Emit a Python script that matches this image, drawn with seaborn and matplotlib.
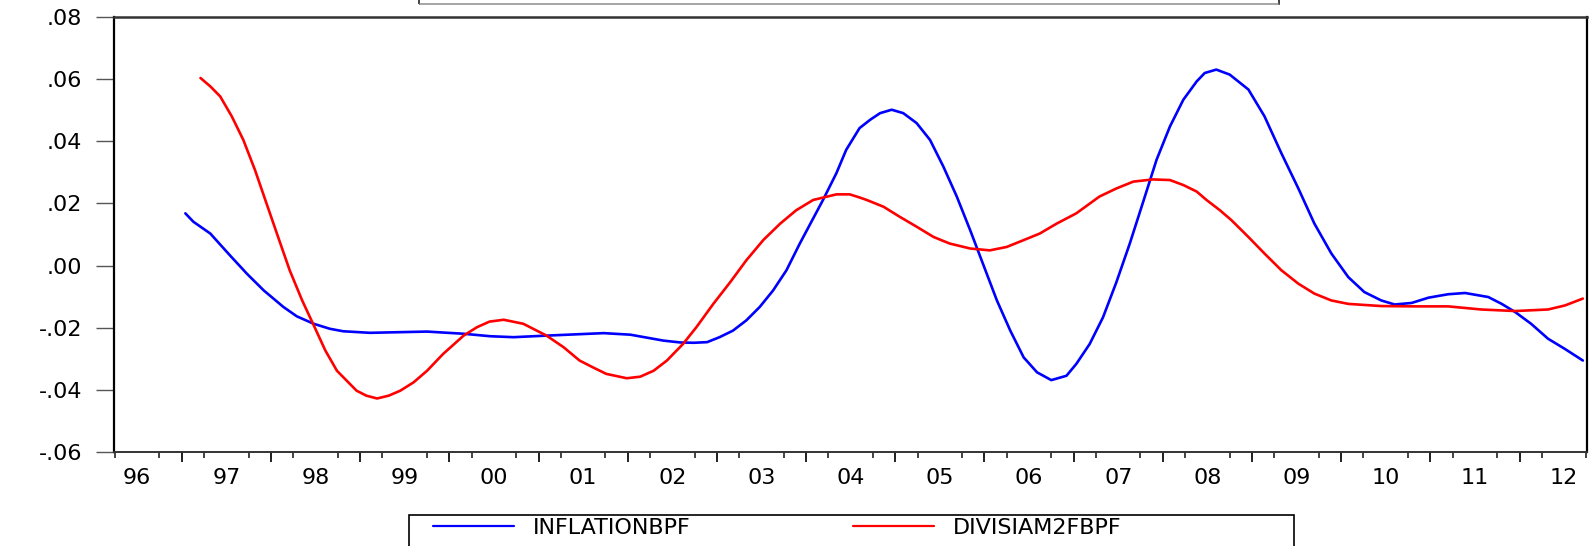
import numpy as np
import pandas as pd
import matplotlib
matplotlib.use("Agg")
import matplotlib.pyplot as plt
import seaborn as sns
from matplotlib.patches import Rectangle

# series (time in fractional years)
t_infl = [1997.04, 1997.13, 1997.32, 1997.54, 1997.73, 1997.92, 1998.14, 1998.29,
          1998.48, 1998.66, 1998.81, 1999.11, 1999.75, 2000.16, 2000.46, 2000.72,
          2001.09, 2001.73, 2002.03, 2002.40, 2002.59, 2002.74, 2002.89, 2003.03,
          2003.18, 2003.33, 2003.48, 2003.63, 2003.78, 2003.93, 2004.19, 2004.34,
          2004.45, 2004.60, 2004.72, 2004.83, 2004.96, 2005.09, 2005.24, 2005.39,
          2005.54, 2005.69, 2005.84, 2005.99, 2006.14, 2006.29, 2006.44, 2006.59,
          2006.75, 2006.92, 2007.03, 2007.18, 2007.33, 2007.48, 2007.63, 2007.78,
          2007.93, 2008.08, 2008.23, 2008.38, 2008.47, 2008.60, 2008.75, 2008.96,
          2009.14, 2009.33, 2009.52, 2009.70, 2009.89, 2010.08, 2010.26, 2010.45,
          2010.60, 2010.79, 2010.98, 2011.20, 2011.39, 2011.65, 2011.80, 2011.95,
          2012.13, 2012.32, 2012.51, 2012.71]
v_infl = [0.0168, 0.0141, 0.0103, 0.0033, -0.0026, -0.0080, -0.0133, -0.0163,
          -0.0187, -0.0203, -0.0211, -0.0216, -0.0212, -0.0219, -0.0227, -0.0230,
          -0.0225, -0.0217, -0.0222, -0.0241, -0.0247, -0.0248, -0.0246, -0.0230,
          -0.0209, -0.0176, -0.0133, -0.0080, -0.0015, 0.0071, 0.0211, 0.0297,
          0.0372, 0.0442, 0.0469, 0.0490, 0.0501, 0.0490, 0.0458, 0.0404,
          0.0318, 0.0222, 0.0114, 0.0001, -0.0112, -0.0209, -0.0295, -0.0343,
          -0.0368, -0.0354, -0.0316, -0.0252, -0.0166, -0.0053, 0.0071, 0.0205,
          0.0340, 0.0447, 0.0533, 0.0592, 0.0619, 0.0630, 0.0614, 0.0566,
          0.0480, 0.0361, 0.0248, 0.0135, 0.0039, -0.0037, -0.0085, -0.0112,
          -0.0125, -0.0120, -0.0103, -0.0092, -0.0088, -0.0101, -0.0123, -0.0149,
          -0.0187, -0.0235, -0.0268, -0.0305]

t_div = [1997.21, 1997.32, 1997.43, 1997.56, 1997.69, 1997.82, 1997.95, 1998.08,
         1998.21, 1998.35, 1998.48, 1998.61, 1998.74, 1998.85, 1998.96, 1999.07,
         1999.19, 1999.32, 1999.45, 1999.60, 1999.75, 1999.93, 2000.16, 2000.31,
         2000.45, 2000.61, 2000.83, 2001.09, 2001.28, 2001.46, 2001.61, 2001.76,
         2001.99, 2002.14, 2002.29, 2002.44, 2002.62, 2002.77, 2002.96, 2003.15,
         2003.33, 2003.52, 2003.71, 2003.89, 2004.08, 2004.34, 2004.49, 2004.60,
         2004.68, 2004.87, 2005.05, 2005.24, 2005.43, 2005.61, 2005.84, 2006.06,
         2006.25, 2006.44, 2006.62, 2006.81, 2007.03, 2007.29, 2007.48, 2007.67,
         2007.89, 2008.08, 2008.23, 2008.38, 2008.49, 2008.64, 2008.77, 2008.96,
         2009.14, 2009.33, 2009.52, 2009.70, 2009.89, 2010.08, 2010.45, 2010.83,
         2011.20, 2011.57, 2011.95, 2012.32, 2012.51, 2012.71]
v_div = [0.0603, 0.0576, 0.0544, 0.0480, 0.0404, 0.0308, 0.0200, 0.0092,
         -0.0015, -0.0112, -0.0192, -0.0273, -0.0338, -0.0370, -0.0402, -0.0418,
         -0.0427, -0.0418, -0.0402, -0.0375, -0.0338, -0.0284, -0.0225, -0.0198,
         -0.0180, -0.0174, -0.0187, -0.0225, -0.0262, -0.0305, -0.0327, -0.0348,
         -0.0362, -0.0357, -0.0338, -0.0305, -0.0252, -0.0198, -0.0123, -0.0053,
         0.0017, 0.0082, 0.0135, 0.0178, 0.0211, 0.0229, 0.0229, 0.0219,
         0.0211, 0.0189, 0.0157, 0.0125, 0.0092, 0.0071, 0.0055, 0.0049,
         0.0060, 0.0082, 0.0103, 0.0135, 0.0168, 0.0222, 0.0248, 0.0270,
         0.0277, 0.0275, 0.0259, 0.0238, 0.0211, 0.0178, 0.0146, 0.0092,
         0.0039, -0.0015, -0.0058, -0.0090, -0.0112, -0.0123, -0.0130, -0.0131,
         -0.0131, -0.0141, -0.0146, -0.0141, -0.0128, -0.0106]

years = list(range(1996, 2013))
year_labels = ['96', '97', '98', '99', '00', '01', '02', '03', '04', '05', '06',
               '07', '08', '09', '10', '11', '12']
y_ticks = [0.08, 0.06, 0.04, 0.02, 0.00, -0.02, -0.04, -0.06]
y_labels = ['.08', '.06', '.04', '.02', '.00', '-.02', '-.04', '-.06']

df = pd.concat([
    pd.DataFrame({'t': t_infl, 'v': v_infl, 'series': 'INFLATIONBPF'}),
    pd.DataFrame({'t': t_div, 'v': v_div, 'series': 'DIVISIAM2FBPF'}),
])

sns.set_style('white')
plt.rcParams['font.family'] = ['DejaVu Sans']
plt.rcParams['text.color'] = 'black'
plt.rcParams['xtick.color'] = 'black'
plt.rcParams['ytick.color'] = 'black'

W, H = 1593, 546
fig = plt.figure(figsize=(W / 100, H / 100), dpi=100)
ax = fig.add_axes([114 / W, 1 - 452.3 / H, (1587.3 - 114) / W, (452.3 - 16.7) / H])

sns.lineplot(data=df, x='t', y='v', hue='series', estimator=None, sort=False,
             palette={'INFLATIONBPF': '#0000ff', 'DIVISIAM2FBPF': '#ff0000'},
             linewidth=1.9, ax=ax, legend=True)
handles, labels = ax.get_legend_handles_labels()
ax.get_legend().remove()
for h in handles:
    h.set_linewidth(1.6)

ax.set_xlim(1996.24, 2012.76)
ax.set_ylim(-0.06, 0.08)
ax.set_xlabel('')
ax.set_ylabel('')

# year labels centred in each year, quarter ticks, longer ticks at year bounds
ax.set_xticks([y + 0.5 for y in years])
ax.set_xticklabels(year_labels, fontsize=16, color='black')
ax.tick_params(axis='x', which='major', length=0, pad=11)
q = np.arange(1996.25, 2012.76, 0.25)
ax.set_xticks(q, minor=True)
ax.tick_params(axis='x', which='minor', length=4.5, width=1.2, color='#222',
               direction='out', bottom=True)
sec = ax.secondary_xaxis('bottom')
sec.set_xticks(years[1:])
sec.set_xticklabels([])
sec.tick_params(length=7.5, width=1.4, color='#222', direction='out')
sec.spines['bottom'].set_visible(False)

ax.set_yticks(y_ticks)
ax.set_yticklabels(y_labels, fontsize=16, color='black')
ax.tick_params(axis='y', length=13, width=1.0, color='#555', direction='out',
               pad=10, left=True)

for s in ['left', 'right']:
    ax.spines[s].set_color('black')
    ax.spines[s].set_linewidth(1.6)
ax.spines['top'].set_color('#333')
ax.spines['top'].set_linewidth(1.8)
ax.spines['bottom'].set_color('#333')
ax.spines['bottom'].set_linewidth(1.4)

# partial box at the top edge
fig.patches.append(Rectangle((419 / W, 1 - 4 / H), (1279 - 419) / W, 0.05,
                             transform=fig.transFigure, fill=False,
                             edgecolor='#222', linewidth=1.2))
fig.add_artist(plt.Line2D([420 / W, 1278 / W], [1 - 4 / H, 1 - 4 / H],
                          transform=fig.transFigure, color='#bbb', lw=1.2))

# legend box at the bottom edge
fig.patches.append(Rectangle((409 / W, -0.05), (1294 - 409) / W, 0.05 + (H - 515) / H,
                             transform=fig.transFigure, fill=False,
                             edgecolor='black', linewidth=1.2))
fig.legend(handles, labels, loc='upper left', bbox_to_anchor=(433 / W, 1 - 518 / H),
           ncol=2, frameon=False, fontsize=16, borderpad=0, borderaxespad=0,
           handlelength=3.65, handletextpad=0.85, columnspacing=7.3)

fig.savefig('out.png', dpi=100, facecolor='white')
